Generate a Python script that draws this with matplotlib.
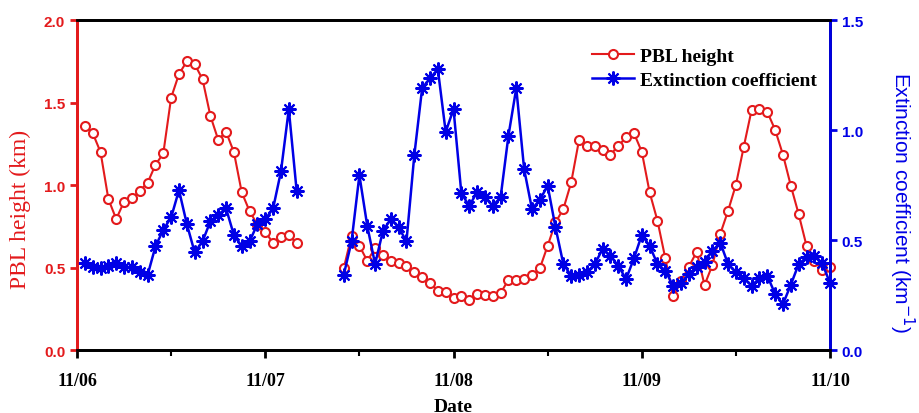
import numpy as np
import matplotlib.pyplot as plt
from matplotlib.ticker import MultipleLocator

# hourly samples, hours since 11/06 00:00
hours1 = np.arange(1, 29)
hours2 = np.arange(34, 97)

pbl1 = [1.356, 1.315, 1.20, 0.915, 0.794, 0.90, 0.92, 0.966, 1.014, 1.123,
        1.192, 1.53, 1.673, 1.75, 1.733, 1.642, 1.42, 1.275, 1.323, 1.20,
        0.956, 0.842, 0.76, 0.717, 0.648, 0.683, 0.697, 0.647]
ext1 = [0.395, 0.376, 0.371, 0.383, 0.395, 0.376, 0.376, 0.353, 0.341, 0.471,
        0.547, 0.603, 0.727, 0.573, 0.444, 0.494, 0.585, 0.615, 0.644, 0.523,
        0.471, 0.494, 0.573, 0.595, 0.644, 0.812, 1.095, 0.724]

pbl2 = [0.495, 0.693, 0.632, 0.541, 0.616, 0.576, 0.541, 0.527, 0.511, 0.475,
        0.444, 0.406, 0.36, 0.353, 0.313, 0.325, 0.303, 0.339, 0.333, 0.325,
        0.345, 0.426, 0.426, 0.430, 0.456, 0.495, 0.632, 0.774, 0.855, 1.016,
        1.273, 1.234, 1.234, 1.212, 1.184, 1.238, 1.289, 1.315, 1.202, 0.956,
        0.784, 0.556, 0.325, 0.416, 0.505, 0.596, 0.394, 0.515, 0.703, 0.844,
        1.002, 1.232, 1.455, 1.461, 1.444, 1.335, 1.184, 0.996, 0.824, 0.632,
        0.541, 0.485, 0.505]
ext2 = [0.341, 0.494, 0.795, 0.565, 0.391, 0.542, 0.595, 0.558, 0.494, 0.886,
        1.191, 1.235, 1.277, 0.992, 1.095, 0.712, 0.656, 0.717, 0.694, 0.656,
        0.694, 0.974, 1.191, 0.823, 0.641, 0.683, 0.747, 0.558, 0.391, 0.338,
        0.342, 0.353, 0.391, 0.459, 0.429, 0.383, 0.323, 0.417, 0.523, 0.474,
        0.391, 0.361, 0.292, 0.305, 0.345, 0.379, 0.401, 0.451, 0.489, 0.391,
        0.353, 0.326, 0.292, 0.326, 0.338, 0.255, 0.209, 0.297, 0.391, 0.421,
        0.429, 0.394, 0.305]

day_ticks = [0, 24, 48, 72, 96]
day_labels = ["11/06", "11/07", "11/08", "11/09", "11/10"]

RED = "#e31a1c"
BLUE = "#0000e6"
star = (8, 2, 0)

fig = plt.figure(figsize=(9.19, 4.14), dpi=100)
ax = fig.add_axes([0.0838, 0.152, 0.8194, 0.797])
ax2 = ax.twinx()

kw_r = dict(color=RED, lw=1.5, marker="o", ms=6.5, mfc="white", mec=RED, mew=1.5, clip_on=False)
kw_b = dict(color=BLUE, lw=1.8, marker=star, ms=10, mec=BLUE, mew=1.5, clip_on=False)

l1, = ax.plot(hours1, pbl1, label="PBL height", **kw_r)
ax.plot(hours2, pbl2, **kw_r)
l2, = ax2.plot(hours1, ext1, label="Extinction coefficient", **kw_b)
ax2.plot(hours2, ext2, **kw_b)

ax.set_xlim(0, 96)
ax.set_ylim(0, 2.0)
ax2.set_ylim(0, 1.5)
ax.set_xticks(day_ticks)
ax.set_xticklabels(day_labels, family="Liberation Serif", weight="bold", fontsize=13)
ax.xaxis.set_minor_locator(MultipleLocator(12))
ax.yaxis.set_major_locator(MultipleLocator(0.5))
ax2.yaxis.set_major_locator(MultipleLocator(0.5))

for a in (ax, ax2):
    for s in a.spines.values():
        s.set_linewidth(2)
ax2.spines["left"].set_color(RED)
ax2.spines["right"].set_color(BLUE)
ax.spines["left"].set_color(RED)

ax.tick_params(axis="x", which="major", direction="out", length=6, width=2, pad=10)
ax.tick_params(axis="x", which="minor", direction="out", length=4, width=1.5)
ax.tick_params(axis="y", direction="out", length=5, width=2, color=RED, labelcolor=RED)
ax2.tick_params(axis="y", direction="out", length=5, width=2, color=BLUE, labelcolor=BLUE)
for lab in ax.get_yticklabels() + ax2.get_yticklabels():
    lab.set_fontweight("bold")
    lab.set_fontsize(11)
    lab.set_family("Liberation Sans")

ax.set_xlabel("Date", family="Liberation Serif", weight="bold", fontsize=14, labelpad=6)
ax.set_ylabel("PBL height (km)", family="Liberation Serif", color=RED, fontsize=17, va="center")
ax.yaxis.set_label_coords(-0.075, 0.43)
ax2.set_ylabel("Extinction coefficient (km$^{-1}$)", family="Liberation Sans", color=BLUE,
               fontsize=15, rotation=270, va="center")
ax2.yaxis.set_label_coords(1.095, 0.45)

ax.legend(handles=[l1, l2], loc="upper left", bbox_to_anchor=(0.66, 0.97), frameon=False,
          prop={"family": "Liberation Serif", "weight": "bold", "size": 14},
          handlelength=2.2, handletextpad=0.3, labelspacing=0.3)

fig.savefig("out.png", dpi=100)
